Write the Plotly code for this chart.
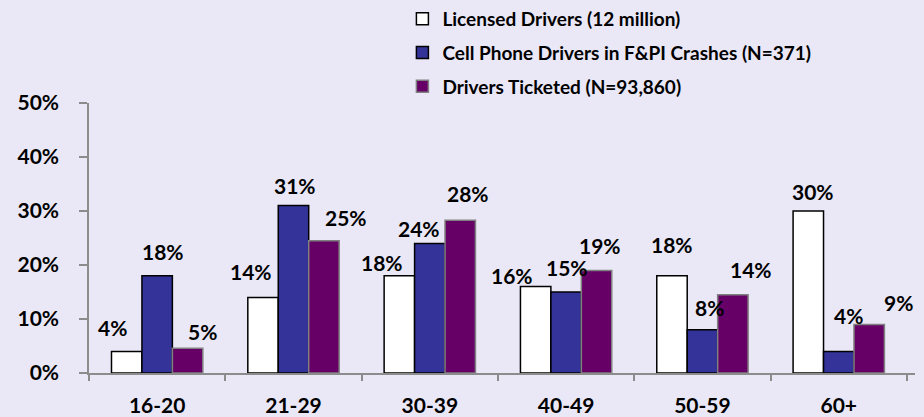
import plotly.graph_objects as go

categories = ["16-20", "21-29", "30-39", "40-49", "50-59", "60+"]
licensed = [4, 14, 18, 16, 18, 30]
cell_phone = [18, 31, 24, 15, 8, 4]
ticketed = [4.6, 24.5, 28.3, 19, 14.5, 9]
licensed_labels = ["4%", "14%", "18%", "16%", "18%", "30%"]
cell_labels = ["18%", "31%", "24%", "15%", "8%", "4%"]
ticket_labels = ["5%", "25%", "28%", "19%", "14%", "9%"]
series_names = ["Licensed Drivers (12 million)",
                "Cell Phone Drivers in F&PI Crashes (N=371)",
                "Drivers Ticketed (N=93,860)"]
y_ticks = [0, 10, 20, 30, 40, 50]
y_tick_text = ["0%", "10%", "20%", "30%", "40%", "50%"]

# label placement tweaks (pixels), style only
lab_dx = [[-14, -12, -17, -23, 0, 5],
          [6, 2, -11, 1, 7, 10],
          [15, 22, 7, 3, 18, 29]]
lab_dy = [[24, 26, 13, 11, 31, 20],
          [24, 20, 15, 25, 22, 36],
          [17, 23, 27, 25, 25, 22]]

BG = "#EAE8F7"
FONT = "Lato"
fills = ["#FFFFFF", "#333399", "#660066"]
edges = ["#000000", "#000000", "#808080"]
values = [licensed, cell_phone, ticketed]
labels = [licensed_labels, cell_labels, ticket_labels]

fig = go.Figure()
for i in range(3):
    fig.add_trace(go.Bar(
        x=categories, y=values[i], name=series_names[i],
        marker=dict(color=fills[i], line=dict(color=edges[i], width=1.5)),
        legendgroup=f"g{i}",
    ))

bar_w = 0.67 * (826 / 6) / 3
annotations = []
for i in range(3):
    base = (i - 1) * bar_w
    for j, c in enumerate(categories):
        annotations.append(dict(
            x=c, y=values[i][j], text=labels[i][j], showarrow=False,
            xref="x", yref="y", xanchor="center", yanchor="middle",
            xshift=base + lab_dx[i][j], yshift=lab_dy[i][j],
            font=dict(family=FONT, size=21, color="#000000", weight="bold"),
        ))

fig.update_layout(
    width=924, height=417,
    paper_bgcolor=BG, plot_bgcolor=BG,
    margin=dict(l=89, r=9, t=103, b=44, autoexpand=False),
    barmode="group", bargap=0.33, bargroupgap=0,
    font=dict(family=FONT, color="#000000"),
    showlegend=True,
    legend=dict(
        x=0.4355, y=1.006, xref="container", yref="container",
        xanchor="left", yanchor="top",
        bgcolor="rgba(0,0,0,0)",
        font=dict(family=FONT, size=19, color="#000000", weight="bold"),
        traceorder="grouped", tracegroupgap=6,
        itemwidth=30,
    ),
    annotations=annotations,
)
fig.update_xaxes(
    type="category", showgrid=False, showline=True, linecolor="#8C8C8C",
    linewidth=1.5, ticks="outside", tickson="boundaries", ticklen=6,
    tickcolor="#8C8C8C", tickwidth=1.5,
    tickfont=dict(family=FONT, size=21, color="#000000", weight="bold"),
    ticklabelstandoff=13,
)
fig.update_yaxes(
    range=[0, 50], tickvals=y_ticks, ticktext=y_tick_text,
    showgrid=False, showline=True, linecolor="#8C8C8C", linewidth=1.5,
    ticks="outside", ticklen=8, tickcolor="#8C8C8C", tickwidth=1.5,
    tickfont=dict(family=FONT, size=21, color="#000000", weight="bold"),
    ticklabelstandoff=16, zeroline=False,
)

fig.write_html("out.html", config={"displayModeBar": False},
               post_script="document.body.style.margin='0';")
